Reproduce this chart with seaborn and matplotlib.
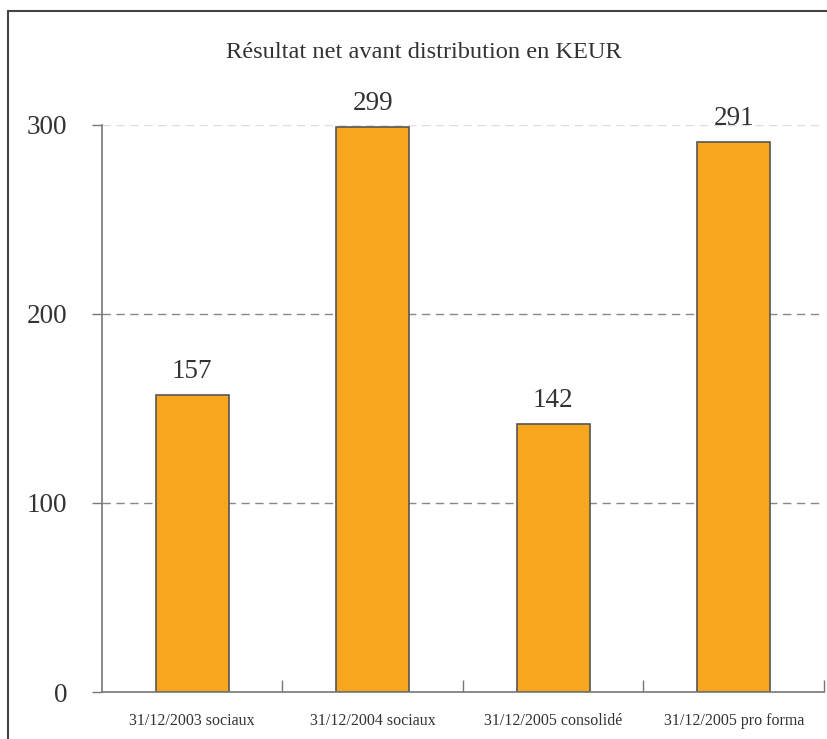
import matplotlib
matplotlib.use("Agg")
import matplotlib.pyplot as plt
import seaborn as sns
import pandas as pd
from matplotlib.lines import Line2D

categories = ["31/12/2003 sociaux", "31/12/2004 sociaux", "31/12/2005 consolidé", "31/12/2005 pro forma"]
values = [157, 299, 142, 291]
yticks = [0, 100, 200, 300]
title = "Résultat net avant distribution en KEUR"

df = pd.DataFrame({"cat": categories, "val": values})

sns.set_theme(style="white")
plt.rcParams["font.family"] = ["Liberation Serif", "DejaVu Serif"]

fig = plt.figure(figsize=(8.28, 7.39), dpi=100)
ax = fig.add_axes([102/828, 1-692/739, (824-102)/828, (692-125)/739])

sns.barplot(data=df, x="cat", y="val", color="#F8A61D", saturation=1,
            edgecolor="#555555", linewidth=1.2, width=0.405, ax=ax)

ax.set_ylim(0, 300)
ax.set_xlim(-0.5, 3.5)
ax.set_xlabel("")
ax.set_ylabel("")

# gridlines
for v in yticks[1:]:
    col = "#dddddd" if v == 300 else "#888888"
    ax.axhline(v, color=col, linestyle=(0, (6, 4)), linewidth=1.0, zorder=0)

ax.set_yticks(yticks)
ax.set_yticklabels([str(v) for v in yticks], fontsize=19.5, color="#333333")
ax.tick_params(axis="y", direction="out", length=7, width=1, color="#777777", pad=18, left=True)

ax.set_xticks(range(len(categories)))
ax.set_xticklabels(categories, fontsize=11.5, color="#333333")
ax.tick_params(axis="x", which="major", length=0, pad=15)
ax.set_xticks([0.5, 1.5, 2.5, 3.5], minor=True)
ax.tick_params(axis="x", which="minor", direction="in", length=9, width=1, color="#777777", bottom=True)

for s in ["top", "right"]:
    ax.spines[s].set_visible(False)
for s in ["left", "bottom"]:
    ax.spines[s].set_color("#777777")
    ax.spines[s].set_linewidth(1.2)

for c in ax.containers:
    ax.bar_label(c, labels=[str(v) for v in values], padding=8, fontsize=19.5, color="#333333")

fig.text(424/828, 1-53/739, title, ha="center", va="center", fontsize=17.6, color="#333333")

# outer frame (top and left only)
fig.add_artist(Line2D([8/828, 1.0], [1-11/739, 1-11/739], transform=fig.transFigure, color="#444444", linewidth=1.5))
fig.add_artist(Line2D([8/828, 8/828], [0, 1-11/739], transform=fig.transFigure, color="#444444", linewidth=1.5))

fig.savefig("out.png", dpi=100)
